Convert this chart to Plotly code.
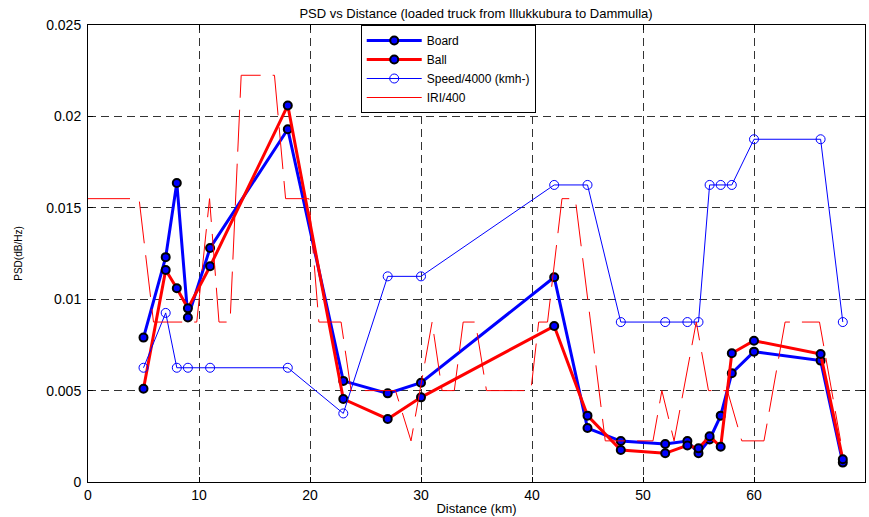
import plotly.graph_objects as go

# Distance (km) of measurement points
distance = [5, 7, 8, 9, 11, 18, 23, 27, 30, 42, 45, 48, 52, 54, 55, 56, 57, 58, 60, 66, 68]
board = [0.0079, 0.0123, 0.01636, 0.0090, 0.0128, 0.0193, 0.00553, 0.00485, 0.00543, 0.0112, 0.00295,
         0.00224, 0.00208, 0.00224, 0.00157, 0.00233, 0.00363, 0.00595, 0.00713, 0.00664, 0.00106]
ball = [0.0051, 0.0116, 0.0106, 0.0095, 0.0118, 0.0206, 0.00454, 0.00345, 0.00463, 0.00853, 0.00363,
        0.00175, 0.00157, 0.0020, 0.00184, 0.0025, 0.00193, 0.00704, 0.00773, 0.0070, 0.00124]
speed_kmh = [25, 37, 25, 25, 25, 25, 15, 45, 45, 65, 65, 35, 35, 35, 35, 65, 65, 65, 75, 75, 35]

iri_x = [0, 4.6, 5.9, 9.8, 10.95, 11.8, 12.8, 13.8, 16.8, 17.8, 19.9, 20.8, 22.8, 23.7, 27.7, 29.1,
         31.0, 31.9, 33.0, 33.8, 34.9, 35.9, 39.9, 40.6, 41.4, 42.7, 43.9, 46.6, 50.9, 51.7, 52.8,
         54.8, 55.9, 57.6, 58.9, 60.9, 62.8, 65.9, 67.8]
iri = [6.2, 6.2, 3.5, 3.5, 6.2, 3.5, 3.5, 8.9, 8.9, 6.2, 6.2, 3.5, 3.5, 2.0, 2.0, 0.9,
       3.5, 2.0, 2.0, 3.5, 3.5, 2.0, 2.0, 3.5, 3.5, 6.2, 6.2, 0.9, 0.9, 2.0, 0.9,
       3.5, 2.0, 2.0, 0.9, 0.9, 3.5, 3.5, 0.9]

speed_scaled = [s / 4000 for s in speed_kmh]
iri_scaled = [v / 400 for v in iri]

FONT = "Liberation Sans, Arial"

fig = go.Figure()
fig.add_trace(go.Scatter(x=distance, y=board, name="Board", mode="lines+markers",
                         line=dict(color="#0000ff", width=3),
                         marker=dict(color="#0000ff", size=8, line=dict(color="black", width=2))))
fig.add_trace(go.Scatter(x=distance, y=ball, name="Ball", mode="lines+markers",
                         line=dict(color="#ff0000", width=3),
                         marker=dict(color="#0000ff", size=8, line=dict(color="black", width=2))))
fig.add_trace(go.Scatter(x=distance, y=speed_scaled, name="Speed/4000 (kmh-)", mode="lines+markers",
                         line=dict(color="#0000ff", width=1),
                         marker=dict(symbol="circle-open", color="#0000ff", size=9, line=dict(width=1))))
fig.add_trace(go.Scatter(x=iri_x, y=iri_scaled, name="IRI/400", mode="lines", showlegend=False,
                         legendgroup="iri",
                         line=dict(color="#ff0000", width=1, dash="42px,12px")))
# legend-only entry (solid sample, as in the reference legend)
fig.add_trace(go.Scatter(x=[None], y=[None], name="IRI/400", mode="lines", legendgroup="iri",
                         line=dict(color="#ff0000", width=1)))

axis_common = dict(showline=True, linecolor="black", linewidth=1, mirror="ticks",
                   ticks="inside", ticklen=5, tickcolor="black",
                   showgrid=True, gridcolor="#333333", gridwidth=1, griddash="8px,5px",
                   zeroline=False, tickfont=dict(family=FONT, size=14, color="black"))

fig.update_xaxes(range=[0, 70], dtick=10, tick0=0,
                 title=dict(text="Distance (km)", font=dict(family=FONT, size=13, color="black"), standoff=2),
                 **axis_common)
fig.update_yaxes(range=[0, 0.025], dtick=0.005, tick0=0, ticklabelstandoff=3,
                 title=dict(text="PSD(dB/Hz)", font=dict(family=FONT, size=10, color="black"), standoff=21),
                 **axis_common)

fig.update_layout(
    width=869, height=517,
    margin=dict(l=88, r=4, t=25, b=35),
    paper_bgcolor="white", plot_bgcolor="white",
    title=dict(text="PSD vs Distance (loaded truck from Illukkubura to Dammulla)",
               font=dict(family=FONT, size=13, color="black"),
               x=0.5478, xanchor="center", y=0.982, yanchor="top"),
    legend=dict(x=0.351, y=1.0, xanchor="left", yanchor="top",
                bgcolor="white", bordercolor="black", borderwidth=1,
                font=dict(family=FONT, size=12, color="black"),
                tracegroupgap=0, itemwidth=55),
    showlegend=True,
)

fig.write_html("out.html")
